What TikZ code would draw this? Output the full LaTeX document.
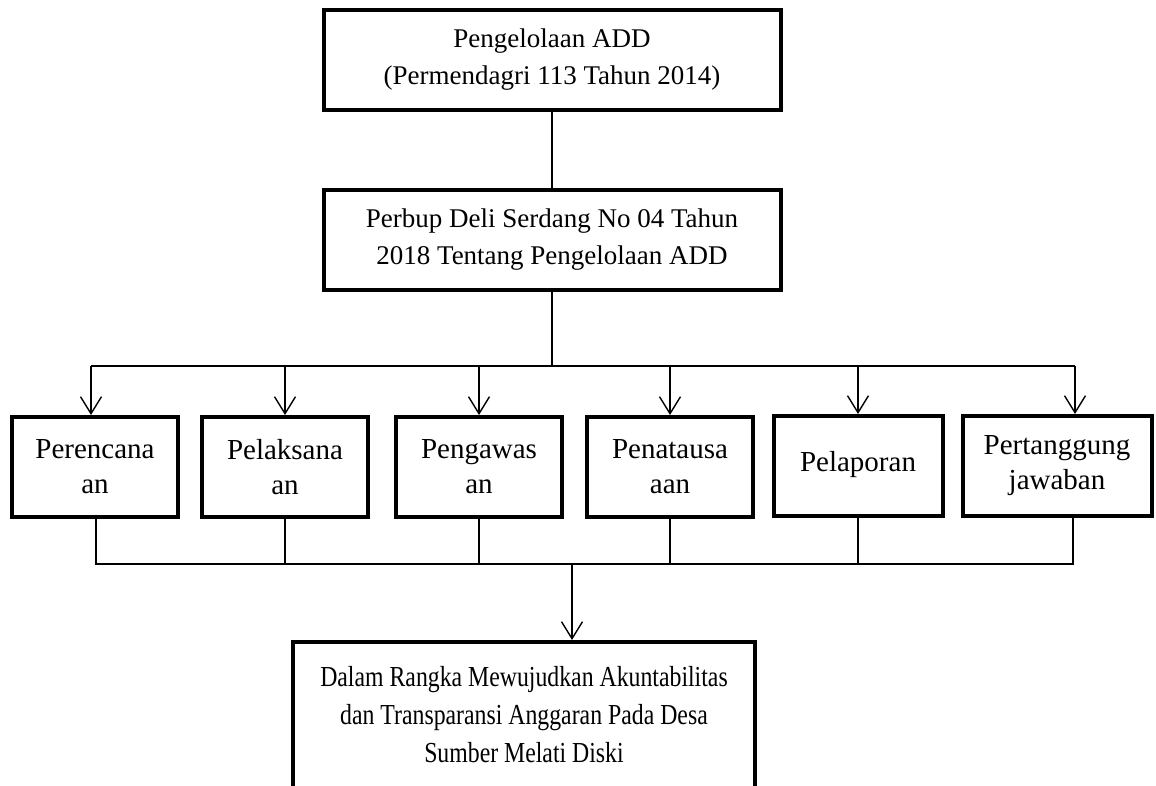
\documentclass[tikz,border=0pt]{standalone}
\usepackage{fontspec}
\setmainfont{Liberation Serif}
\newfontfamily\sempit{Liberation Serif}[FakeStretch=0.82]
\usetikzlibrary{arrows.meta}
\tikzset{
	box_n/.style = {rectangle, draw=black, line width=4pt, align=center,
		inner sep=0pt, font=\fontsize{27}{37}\selectfont},% kotak dasar
	box_b/.style = {box_n, minimum width=457pt, minimum height=100pt},% kotak besar
	box_k/.style = {box_n, minimum width=166pt, minimum height=100pt,
		font=\fontsize{29}{35}\selectfont},% kotak kecil
	box_s/.style = {box_n, minimum width=462pt, minimum height=146pt,
		font=\sempit\fontsize{29}{38}\selectfont},% kotak hasil
	line_n/.style = {draw=black, line width=1.4pt}% garis penghubung
}
\begin{document}
\begin{tikzpicture}[x=1pt,y=-1pt,>={Straight Barb[length=17pt,width=21pt]}]
	\useasboundingbox (0,0) rectangle (1156,786);
	\clip (0,0) rectangle (1156,786);
	\node [box_b] (add) at (552,60) {Pengelolaan ADD\\(Permendagri 113 Tahun 2014)};
	\node [box_b] (perbup) at (552,240) {Perbup Deli Serdang No 04 Tahun\\2018 Tentang Pengelolaan ADD};
	\node [box_k] (p1) at (95,467) {Perencana\\an};
	\node [box_k] (p2) at (285,467) {Pelaksana\\an};
	\node [box_k] (p3) at (479,467) {Pengawas\\an};
	\node [box_k] (p4) at (670,467) {Penatausa\\aan};
	\node [box_k, minimum width=169pt] (p5) at (858,466) {\raisebox{10pt}{Pelaporan}};
	\node [box_k, minimum width=189pt] (p6) at (1057,466) {Pertanggung\\jawaban};
	\node [box_s] (akun) at (524,715)
		{Dalam Rangka Mewujudkan Akuntabilitas\\dan Transparansi Anggaran Pada Desa\\Sumber Melati Diski};
	\coordinate (atasL) at (91,366);
	\coordinate (atasR) at (1075,366);
	\coordinate (bawahL) at (96,564);
	\coordinate (bawahR) at (1073,564);
	\coordinate (tengah) at (572,564);
	% garis ke bawah
	\draw [line_n] (add.south) -- (perbup.north);
	\draw [line_n] (perbup.south) -- (perbup.south |- atasL);
	\draw [line_n] (atasL) -- (atasR);
	\draw [line_n,->] (atasL) -- (atasL |- p1.north);
	\foreach \p in {p2,p3,p4,p5}
		\draw [line_n,->] (\p.north |- atasL) -- (\p.north);
	\draw [line_n,->] (atasR) -- (atasR |- p6.north);
	% garis gabungan
	\draw [line_n] (bawahL |- p1.south) -- (bawahL) -- (bawahR) -- (bawahR |- p6.south);
	\foreach \p in {p2,p3,p4,p5}
		\draw [line_n] (\p.south) -- (\p.south |- bawahL);
	\draw [line_n,->] (tengah) -- (tengah |- akun.north);
\end{tikzpicture}
\end{document}
